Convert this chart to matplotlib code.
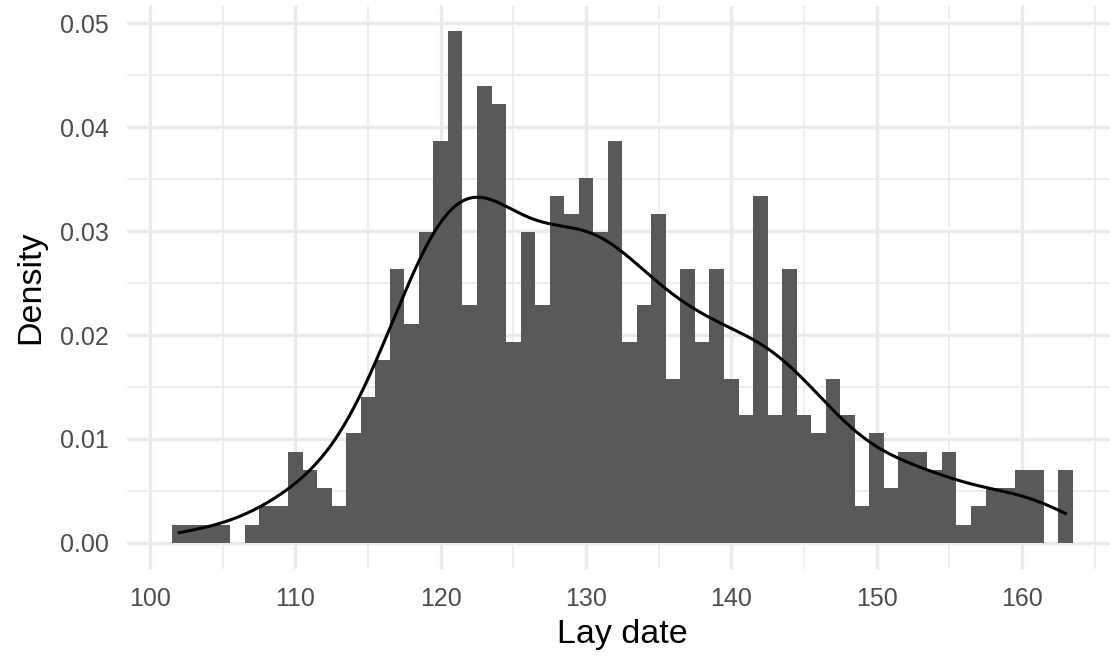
import numpy as np
import matplotlib
matplotlib.use("Agg")
import matplotlib.pyplot as plt
from matplotlib.ticker import MultipleLocator

plt.rcParams["font.family"] = ["Liberation Sans", "DejaVu Sans"]

# lay dates (day of year) and how many nests started on each day
days = list(range(102, 164))
counts = [1, 1, 1, 1, 0, 1, 2, 2, 5, 4,
          3, 2, 6, 8, 10, 15, 12, 17, 22, 28,
          13, 25, 24, 11, 17, 13, 19, 18, 20, 17,
          22, 11, 13, 18, 9, 15, 11, 15, 9, 7,
          19, 7, 15, 7, 6, 9, 7, 2, 6, 3,
          5, 5, 4, 5, 1, 2, 3, 3, 4, 4,
          0, 4]

lay_date = np.repeat(days, counts).astype(float)

# gaussian kde with R's default bandwidth (bw.nrd0)
n = len(lay_date)
sd = lay_date.std(ddof=1)
iqr = np.subtract(*np.percentile(lay_date, [75, 25]))
bw = 0.9 * min(sd, iqr / 1.34) * n ** -0.2
grid = np.linspace(lay_date.min(), lay_date.max(), 512)
dens = np.exp(-0.5 * ((grid[:, None] - lay_date[None, :]) / bw) ** 2).sum(axis=1)
dens /= n * bw * np.sqrt(2 * np.pi)

fig = plt.figure(figsize=(11.1, 6.59), dpi=100)
ax = fig.add_axes([0.1143, 0.1373, 0.8927, 0.8537])

ax.hist(lay_date, bins=np.arange(101.5, 164.5, 1), density=True,
        color="#595959", zorder=2)
ax.plot(grid, dens, color="black", lw=2.2, zorder=3)

ax.set_xlim(98.4, 166.6)
ax.set_ylim(-0.00246, 0.05166)
ax.xaxis.set_major_locator(MultipleLocator(10))
ax.xaxis.set_minor_locator(MultipleLocator(5))
ax.yaxis.set_major_locator(MultipleLocator(0.01))
ax.yaxis.set_minor_locator(MultipleLocator(0.005))
ax.yaxis.set_major_formatter(lambda v, p: f"{v:.2f}")

ax.grid(which="major", color="#EBEBEB", lw=2.4, zorder=0)
ax.grid(which="minor", color="#EBEBEB", lw=1.2, zorder=0)
ax.set_axisbelow(True)
for s in ax.spines.values():
    s.set_visible(False)
ax.tick_params(which="both", length=0, labelsize=18, labelcolor="#4D4D4D", pad=13)

ax.set_xlabel("Lay date", fontsize=24.5, labelpad=6)
ax.set_ylabel("Density", fontsize=24.5, labelpad=10)

fig.savefig("out.png", dpi=100, facecolor="white")
